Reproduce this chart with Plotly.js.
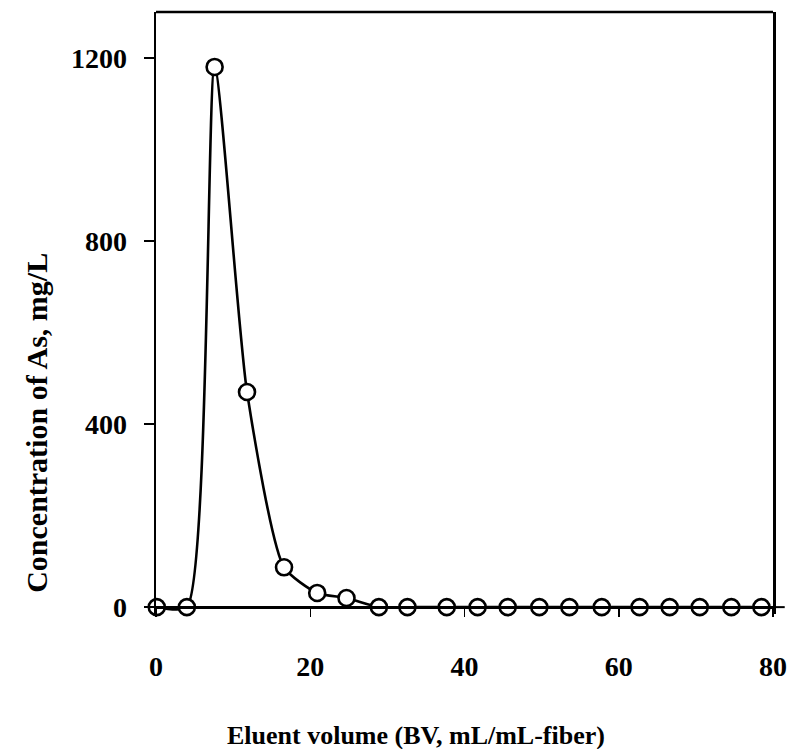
<!DOCTYPE html>
<html>
<head>
<meta charset="utf-8">
<script src="https://cdn.plot.ly/plotly-3.0.1.min.js"></script>
<style>html,body{margin:0;padding:0;background:#fff;}#chart{width:792px;height:749px;}</style>
</head>
<body>
<div id="chart"></div>
<script>
// Data
const eluentVolume = [0.1, 4.0, 7.6, 11.8, 16.6, 20.9, 24.7, 28.9, 32.6, 37.7, 41.7, 45.6, 49.7, 53.6, 57.8, 62.7, 66.6, 70.5, 74.6, 78.5];
const concentration = [0, 0, 1180, 470, 87, 31, 20, 0, 0, 0, 0, 0, 0, 0, 0, 0, 0, 0, 0, 0];
const xTicks = [0, 20, 40, 60, 80];
const yTicks = [0, 400, 800, 1200];
const xTitle = "Eluent volume (BV, mL/mL-fiber)";
const yTitle = "Concentration of As, mg/L";

const yRange = [-15, 1300];
const xRange = [0, 80];
const fontFam = "'Liberation Serif', 'Times New Roman', serif";
const xPos = (0 - yRange[0]) / (yRange[1] - yRange[0]);

const trace = {
  x: eluentVolume,
  y: concentration,
  type: 'scatter',
  mode: 'lines+markers',
  line: {shape: 'spline', smoothing: 0.6, color: '#000', width: 2.6},
  marker: {symbol: 'circle', size: 16, color: '#fff', line: {color: '#000', width: 2.6}},
  cliponaxis: false,
  showlegend: false,
  hoverinfo: 'skip'
};

const layout = {
  width: 792, height: 749,
  margin: {l: 156, r: 19, t: 12, b: 135, pad: 0},
  paper_bgcolor: '#fff', plot_bgcolor: '#fff',
  font: {family: fontFam, color: '#000', size: 26, weight: 'bold'},
  xaxis: {
    range: xRange,
    anchor: 'free',
    position: xPos,
    tickvals: xTicks, ticktext: xTicks.map(String),
    ticks: 'outside', ticklen: 8, tickwidth: 1.5, tickcolor: '#000',
    showline: true, linecolor: '#000', linewidth: 2.5,
    showgrid: false, zeroline: false,
    tickfont: {family: fontFam, size: 28, color: '#000', weight: 'bold'},
    ticklabelstandoff: 26
  },
  yaxis: {
    range: yRange,
    domain: [0, 1],
    tickvals: yTicks, ticktext: yTicks.map(String),
    ticks: 'outside', ticklen: 10, tickwidth: 1.5, tickcolor: '#000',
    showline: true, linecolor: '#000', linewidth: 2.5, mirror: true,
    showgrid: false, zeroline: false,
    tickfont: {family: fontFam, size: 28, color: '#000', weight: 'bold'},
    ticklabelstandoff: 11
  },
  shapes: [
    {type: 'line', xref: 'paper', yref: 'paper', x0: 0, x1: 1, y0: 1, y1: 1,
     line: {color: '#000', width: 2.5}},
    {type: 'line', xref: 'paper', yref: 'paper', x0: 1, x1: 1.019, y0: xPos, y1: xPos,
     line: {color: '#000', width: 2}}
  ],
  annotations: [
    {text: xTitle, xref: 'paper', yref: 'paper', x: 0.422, y: -0.202,
     xanchor: 'center', yanchor: 'middle', showarrow: false,
     font: {family: fontFam, size: 26, color: '#000', weight: 'bold'}},
    {text: yTitle, xref: 'paper', yref: 'paper', x: -0.195, y: 0.317,
     xanchor: 'center', yanchor: 'middle', showarrow: false, textangle: -90,
     font: {family: fontFam, size: 30, color: '#000', weight: 'bold'}}
  ]
};

Plotly.newPlot('chart', [trace], layout, {displayModeBar: false, staticPlot: true});
</script>
</body>
</html>
